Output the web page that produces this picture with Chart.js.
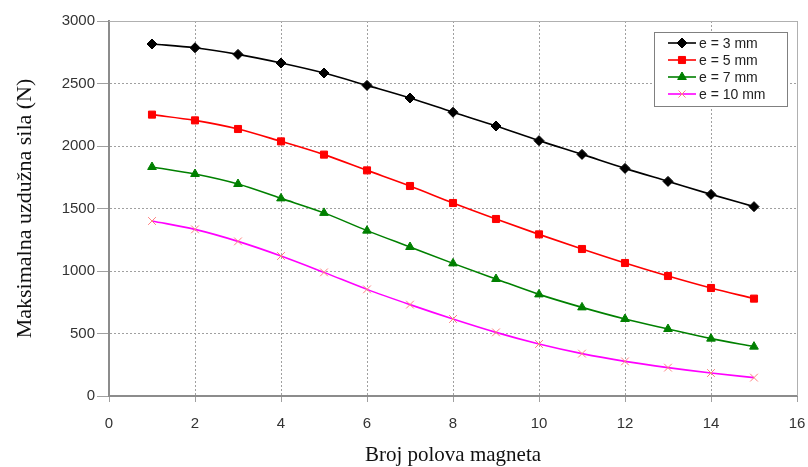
<!DOCTYPE html>
<html>
<head>
<meta charset="utf-8">
<script src="https://cdn.jsdelivr.net/npm/chart.js@4/dist/chart.umd.min.js"></script>
<style>
  html, body { margin: 0; padding: 0; background: #fff; }
  #wrap { width: 808px; height: 467px; }
</style>
</head>
<body>
<div id="wrap"><canvas id="grafico" width="808" height="467"></canvas></div>
<script>
const polovi = [1, 2, 3, 4, 5, 6, 7, 8, 9, 10, 11, 12, 13, 14, 15];
const e3 = [2816, 2786, 2733, 2664, 2584, 2485, 2384, 2270, 2160, 2043, 1933, 1821, 1717, 1613, 1515];
const e5 = [2251, 2205, 2136, 2037, 1931, 1805, 1680, 1544, 1416, 1293, 1176, 1064, 960, 864, 779];
const e7 = [1832, 1776, 1696, 1581, 1465, 1323, 1192, 1061, 936, 813, 709, 616, 536, 459, 395];
const e10 = [1400, 1333, 1237, 1120, 989, 853, 731, 616, 509, 416, 339, 277, 227, 184, 147];
const oznake = ["e = 3 mm", "e = 5 mm", "e = 7 mm", "e = 10 mm"];

function serija(label, vrijednosti, boja, tacka, bojaTacke, r) {
  return {
    label,
    data: polovi.map((x, i) => ({ x, y: vrijednosti[i] })),
    borderColor: boja,
    backgroundColor: bojaTacke,
    pointBorderColor: bojaTacke,
    pointBackgroundColor: bojaTacke,
    pointStyle: tacka,
    pointRadius: r,
    pointBorderWidth: 1,
    borderWidth: 1.6,
    cubicInterpolationMode: "monotone"
  };
}

const datasets = [
  serija(oznake[0], e3, "#000000", "rectRot", "#000000", 5),
  serija(oznake[1], e5, "#ff0000", "rect", "#ff0000", 5),
  serija(oznake[2], e7, "#008000", "triangle", "#008000", 5),
  serija(oznake[3], e10, "#ff00ff", "crossRot", "#ff8080", 5.5)
];

const okvir = {
  id: "okvir",
  afterDatasetsDraw(chart) {
    const { ctx, chartArea: a } = chart;
    ctx.save();
    ctx.strokeStyle = "#b0b0b0";
    ctx.lineWidth = 1;
    ctx.beginPath();
    ctx.moveTo(a.left, a.top + 0.5);
    ctx.lineTo(a.right + 0.5, a.top + 0.5);
    ctx.lineTo(a.right + 0.5, a.bottom);
    ctx.stroke();

    // legenda
    const x0 = 654, y0 = 32, w = 133, h = 74;
    ctx.fillStyle = "#fff";
    ctx.fillRect(x0, y0, w, h);
    ctx.strokeStyle = "#808080";
    ctx.lineWidth = 1;
    ctx.strokeRect(x0 + 0.5, y0 + 0.5, w, h);
    ctx.font = "14px 'Liberation Sans', Arial, sans-serif";
    ctx.textBaseline = "middle";
    chart.data.datasets.forEach((ds, i) => {
      const yy = y0 + 11 + i * 17;
      ctx.strokeStyle = ds.borderColor;
      ctx.lineWidth = 1.6;
      ctx.beginPath();
      ctx.moveTo(x0 + 14, yy);
      ctx.lineTo(x0 + 42, yy);
      ctx.stroke();
      ctx.fillStyle = ds.pointBackgroundColor;
      ctx.strokeStyle = ds.pointBorderColor;
      ctx.lineWidth = 1;
      Chart.helpers.drawPoint(ctx, {
        pointStyle: ds.pointStyle, radius: 5, borderWidth: 1
      }, x0 + 28, yy);
      ctx.fillStyle = "#222";
      ctx.fillText(ds.label, x0 + 45, yy + 1);
    });
    ctx.restore();
  }
};

const tickFont = { size: 15, family: "'Liberation Sans', Arial, sans-serif" };

const config = {
  type: "line",
  data: { datasets },
  options: {
    responsive: false,
    animation: false,
    layout: { padding: { top: 21, right: 11, left: 0, bottom: 1 } },
    plugins: { legend: { display: false }, tooltip: { enabled: false } },
    scales: {
      x: {
        type: "linear",
        min: 0, max: 16,
        ticks: { stepSize: 2, color: "#333", padding: 13, font: tickFont },
        grid: { color: "#a0a0a0", tickLength: 6, tickColor: "#a0a0a0", lineWidth: 1 },
        border: { color: "#8c8c8c", width: 2, dash: [2, 2] },
        title: { display: true, text: "Broj polova magneta", color: "#111", padding: { top: 6, bottom: 0 },
          font: { size: 21, lineHeight: 1.0, family: "'Liberation Serif', 'Times New Roman', serif" } },
        afterFit(s) { s.height = 70; s.paddingLeft = 0; s.paddingRight = 0; }
      },
      y: {
        min: 0, max: 3000,
        ticks: { stepSize: 500, color: "#333", padding: 2, font: tickFont,
          callback: (v) => String(v) },
        grid: { color: "#a0a0a0", tickLength: 12, tickColor: "#a0a0a0", lineWidth: 1 },
        border: { color: "#8c8c8c", width: 2, dash: [2, 2] },
        title: { display: true, text: "Maksimalna uzdužna sila (N)", color: "#111", padding: { top: 12, bottom: 0 },
          font: { size: 22, family: "'Liberation Serif', 'Times New Roman', serif" } },
        afterFit(s) { s.width = 109; s.paddingTop = 0; s.paddingBottom = 0; }
      }
    }
  },
  plugins: [okvir]
};

new Chart(document.getElementById("grafico"), config);
</script>
</body>
</html>
